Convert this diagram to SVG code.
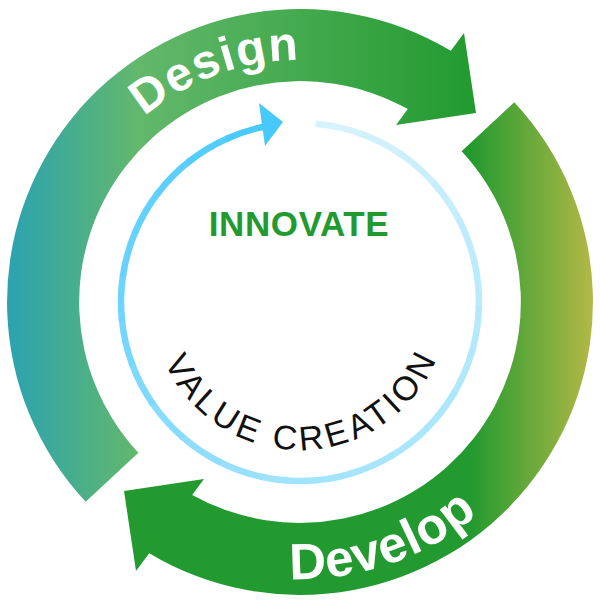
<svg xmlns="http://www.w3.org/2000/svg" xmlns:xlink="http://www.w3.org/1999/xlink" width="600" height="600" viewBox="0 0 600 600">
  <style>
    .ring-label { font-family: "Liberation Sans", Arial, sans-serif; font-weight: bold; fill: #ffffff; }
    .inner-label { font-family: "Liberation Sans", Arial, sans-serif; }
    .seg { fill: none; stroke-width: 6.5; stroke-linecap: butt; }
  </style>
  <defs>
    <linearGradient id="gDesign" gradientUnits="userSpaceOnUse" x1="5" y1="0" x2="480" y2="0">
      <stop offset="0" stop-color="#2aa2b2"/>
      <stop offset="0.28" stop-color="#62b86b"/>
      <stop offset="1" stop-color="#219a2e"/>
    </linearGradient>
    <linearGradient id="gDevelop" gradientUnits="userSpaceOnUse" x1="470" y1="0" x2="600" y2="0">
      <stop offset="0" stop-color="#229a2f"/>
      <stop offset="1" stop-color="#bbba48"/>
    </linearGradient>
    <path id="seg" d="M179 0A179 179 0 0 1 172.57 47.54"/>
    <path id="pDesign" d="M61.7 260A242 242 0 0 1 455.6 116.6"/>
    <path id="pDevelop" d="M118.3 511.1A277 277 0 0 0 571.9 354.9"/>
    <path id="pValue" d="M152 304.9A148 148 0 0 0 448 299.1"/>
  </defs>

  <g id="design">
    <path d="M85.7 501.8A293 293 0 0 1 450.8 50.8L464 33L476 113L396 125L407.8 109.1A221 221 0 0 0 138.4 452.7Z" fill="url(#gDesign)"/>
    <text class="ring-label" font-size="48" letter-spacing="1.5"><textPath href="#pDesign" startOffset="50%" text-anchor="middle">Design</textPath></text>
  </g>

  <g id="develop">
    <path d="M514.3 102.2A293 293 0 0 1 149.2 553.2L136 571L124 491L204 479L192.2 494.9A221 221 0 0 0 461.6 151.3Z" fill="url(#gDevelop)"/>
    <text class="ring-label" font-size="51" letter-spacing="0.8"><textPath href="#pDevelop" startOffset="50%" text-anchor="middle">Develop</textPath></text>
  </g>

  <g id="connectors">
    <g class="seg">
      <use href="#seg" transform="translate(300,302) rotate(275)" stroke="#d6f2fc"/>
      <use href="#seg" transform="translate(300,302) rotate(289.375)" stroke="#d0f1fc"/>
      <use href="#seg" transform="translate(300,302) rotate(303.75)" stroke="#cbeffc"/>
      <use href="#seg" transform="translate(300,302) rotate(318.125)" stroke="#c5eefc"/>
      <use href="#seg" transform="translate(300,302) rotate(332.5)" stroke="#bfecfc"/>
      <use href="#seg" transform="translate(300,302) rotate(346.875)" stroke="#baebfc"/>
      <use href="#seg" transform="translate(300,302) rotate(361.25)" stroke="#b4e9fc"/>
      <use href="#seg" transform="translate(300,302) rotate(375.625)" stroke="#b1e8fc"/>
      <use href="#seg" transform="translate(300,302) rotate(390)" stroke="#ade7fc"/>
      <use href="#seg" transform="translate(300,302) rotate(404.375)" stroke="#aae6fd"/>
      <use href="#seg" transform="translate(300,302) rotate(418.75)" stroke="#a6e5fd"/>
      <use href="#seg" transform="translate(300,302) rotate(433.125)" stroke="#a3e4fd"/>
      <use href="#seg" transform="translate(300,302) rotate(447.5)" stroke="#9fe3fd"/>
      <use href="#seg" transform="translate(300,302) rotate(461.875)" stroke="#97e1fe"/>
      <use href="#seg" transform="translate(300,302) rotate(476.25)" stroke="#90defe"/>
      <use href="#seg" transform="translate(300,302) rotate(490.625)" stroke="#88dcff"/>
      <use href="#seg" transform="translate(300,302) rotate(505)" stroke="#7fd9ff"/>
      <use href="#seg" transform="translate(300,302) rotate(519.375)" stroke="#75d7ff"/>
      <use href="#seg" transform="translate(300,302) rotate(533.75)" stroke="#6cd4ff"/>
      <use href="#seg" transform="translate(300,302) rotate(548.125)" stroke="#67d2ff"/>
      <use href="#seg" transform="translate(300,302) rotate(562.5)" stroke="#61d1ff"/>
      <use href="#seg" transform="translate(300,302) rotate(576.875)" stroke="#5ccfff"/>
      <use href="#seg" transform="translate(300,302) rotate(591.25)" stroke="#53ccfe"/>
      <use href="#seg" transform="translate(300,302) rotate(605.625)" stroke="#4ac9fc"/>
    </g>
    <polygon points="259,103 283,122 265,146" fill="#48c9fc"/>
  </g>

  <g id="innovate">
    <text class="inner-label" x="299" y="236" font-size="35" font-weight="bold" letter-spacing="0.6" fill="#229a2f" text-anchor="middle">INNOVATE</text>
  </g>

  <g id="value-creation">
    <text class="inner-label" font-size="34" letter-spacing="4" fill="#111111"><textPath href="#pValue" startOffset="50%" text-anchor="middle">VALUE CREATION</textPath></text>
  </g>
</svg>
